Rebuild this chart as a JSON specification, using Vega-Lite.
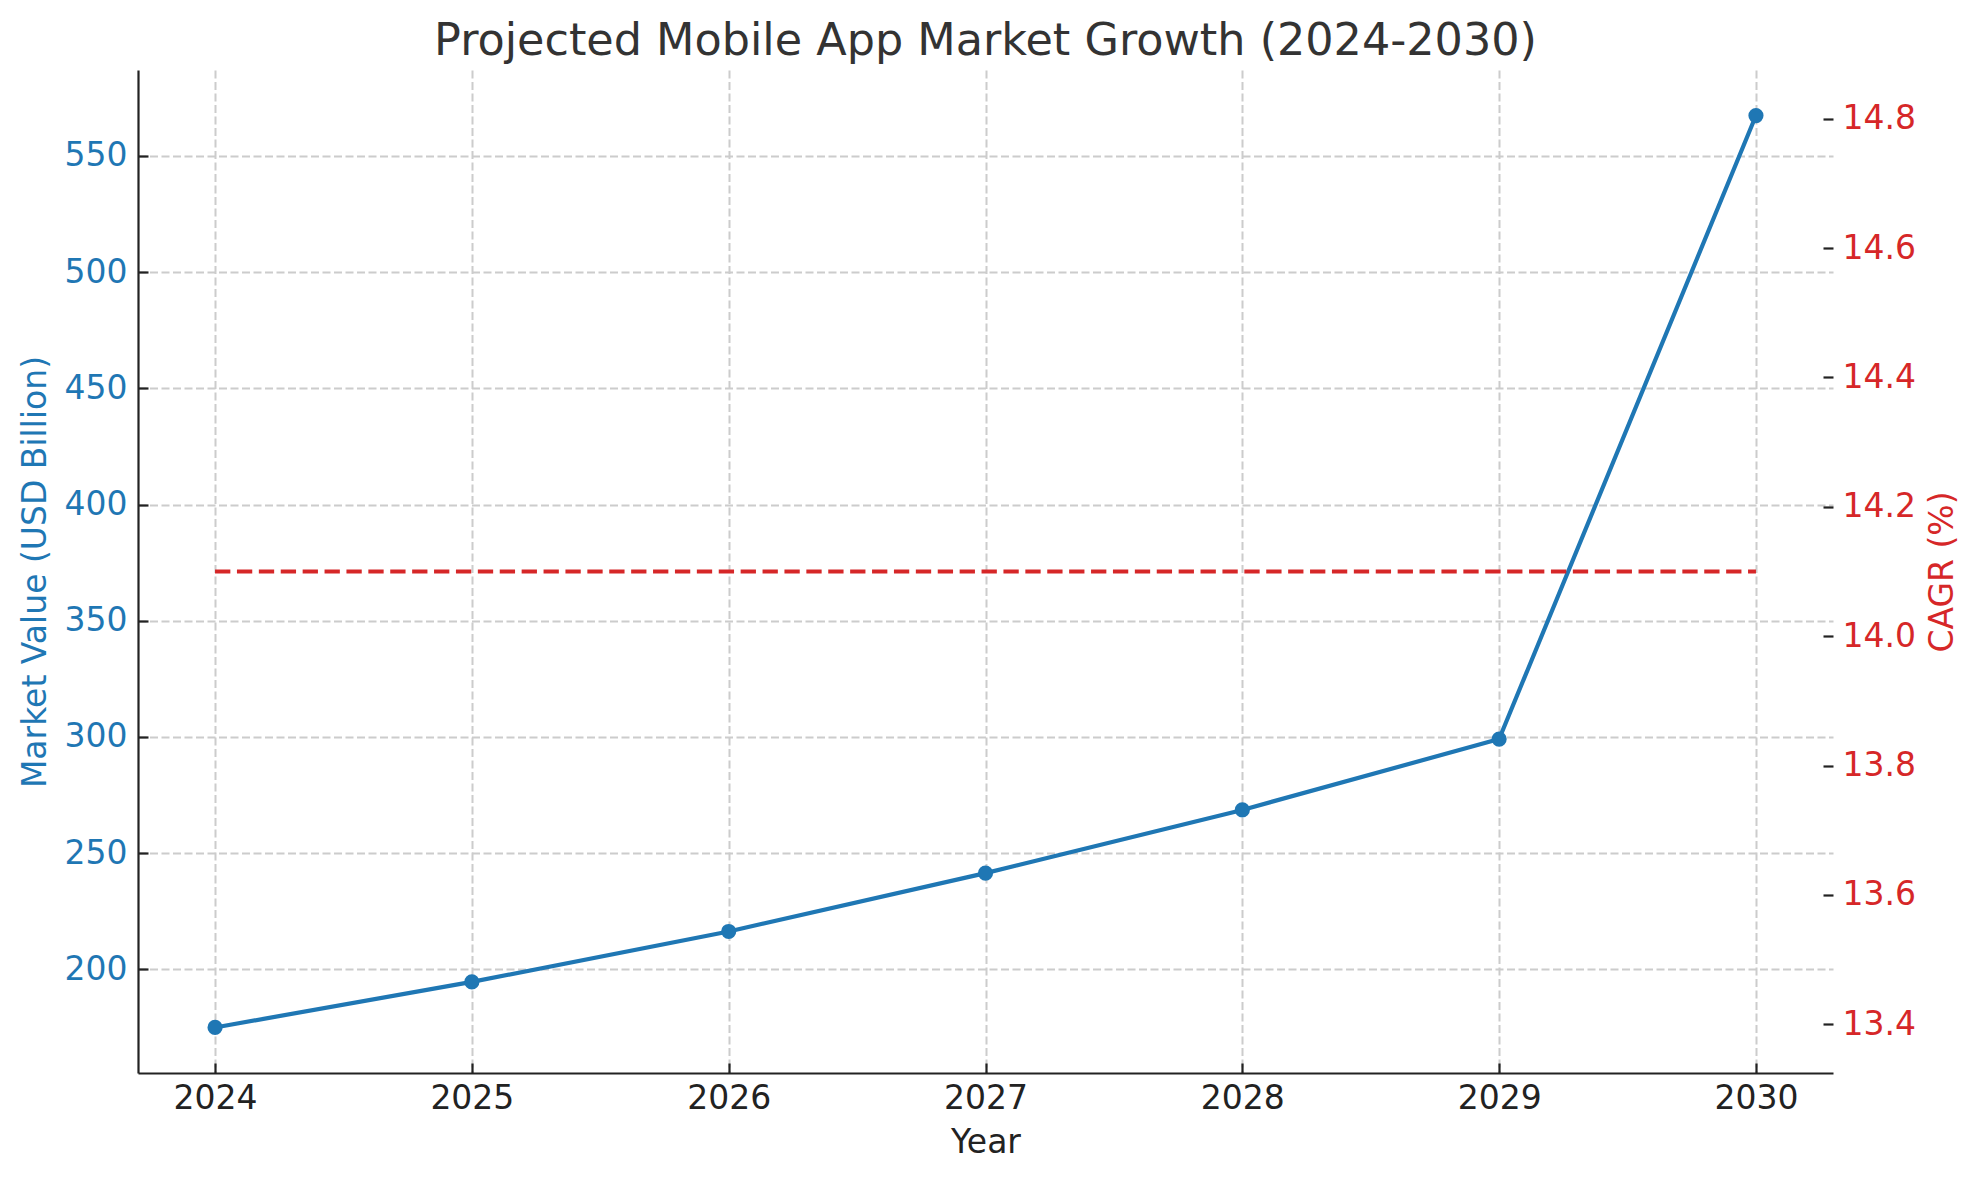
{
  "$schema": "https://vega.github.io/schema/vega-lite/v6.json",
  "autosize": {"type": "none"},
  "width": 1695,
  "height": 1003,
  "padding": {"left": 138, "top": 70, "right": 147, "bottom": 107},
  "background": "white",
  "config": {
    "font": "DejaVu Sans",
    "view": {"stroke": null},
    "axis": {
      "labelFont": "DejaVu Sans",
      "titleFont": "DejaVu Sans",
      "labelFontSize": 33,
      "titleFontSize": 33,
      "titleFontWeight": "normal",
      "tickSize": -10,
      "tickWidth": 2.2,
      "tickColor": "#222222",
      "labelPadding": 19,
      "domainColor": "#222222",
      "domainWidth": 2.2,
      "gridColor": "#cccccc",
      "gridWidth": 2,
      "gridDash": [8, 3.5],
      "labelColor": "#222222",
      "titleColor": "#222222"
    }
  },
  "title": {
    "text": "Projected Mobile App Market Growth (2024-2030)",
    "fontSize": 44.5,
    "font": "DejaVu Sans",
    "fontWeight": "normal",
    "color": "#333333",
    "anchor": "middle",
    "offset": 6
  },
  "data": {
    "values": [
      {"Year": 2024, "MarketValue": 175.0, "CAGR": 14.1},
      {"Year": 2025, "MarketValue": 194.6, "CAGR": 14.1},
      {"Year": 2026, "MarketValue": 216.3, "CAGR": 14.1},
      {"Year": 2027, "MarketValue": 241.4, "CAGR": 14.1},
      {"Year": 2028, "MarketValue": 268.6, "CAGR": 14.1},
      {"Year": 2029, "MarketValue": 299.1, "CAGR": 14.1},
      {"Year": 2030, "MarketValue": 567.4, "CAGR": 14.1}
    ]
  },
  "encoding": {
    "x": {
      "field": "Year",
      "type": "quantitative",
      "scale": {"domain": [2023.7, 2030.3], "nice": false, "zero": false},
      "axis": {
        "title": "Year",
        "values": [2024, 2025, 2026, 2027, 2028, 2029, 2030],
        "format": "d",
        "titlePadding": 11,
        "labelFlush": false
      }
    }
  },
  "layer": [
    {
      "mark": {"type": "line", "color": "#1f77b4", "strokeWidth": 4.2, "point": {"filled": true, "size": 230, "color": "#1f77b4", "opacity": 1}},
      "encoding": {
        "y": {
          "field": "MarketValue",
          "type": "quantitative",
          "scale": {"domain": [155.4, 587.0], "nice": false, "zero": false},
          "axis": {
            "orient": "left",
            "title": "Market Value (USD Billion)",
            "titleColor": "#1f77b4",
            "labelColor": "#1f77b4",
            "labelPadding": 21,
            "values": [200, 250, 300, 350, 400, 450, 500, 550],
            "titlePadding": 12,
            "labelFlush": false
          }
        }
      }
    },
    {
      "mark": {"type": "line", "color": "#d62728", "strokeWidth": 4.1, "strokeDash": [15.3, 6.6]},
      "encoding": {
        "y": {
          "field": "CAGR",
          "type": "quantitative",
          "scale": {"domain": [13.3245, 14.8755], "nice": false, "zero": false},
          "axis": {
            "orient": "right",
            "title": "CAGR (%)",
            "titleColor": "#d62728",
            "labelColor": "#d62728",
            "titleAngle": 270,
            "titleBaseline": "top",
            "values": [13.4, 13.6, 13.8, 14.0, 14.2, 14.4, 14.6, 14.8],
            "format": ".1f",
            "domain": false,
            "titlePadding": 11,
            "labelFlush": false
          }
        }
      }
    }
  ],
  "resolve": {"scale": {"y": "independent"}}
}
